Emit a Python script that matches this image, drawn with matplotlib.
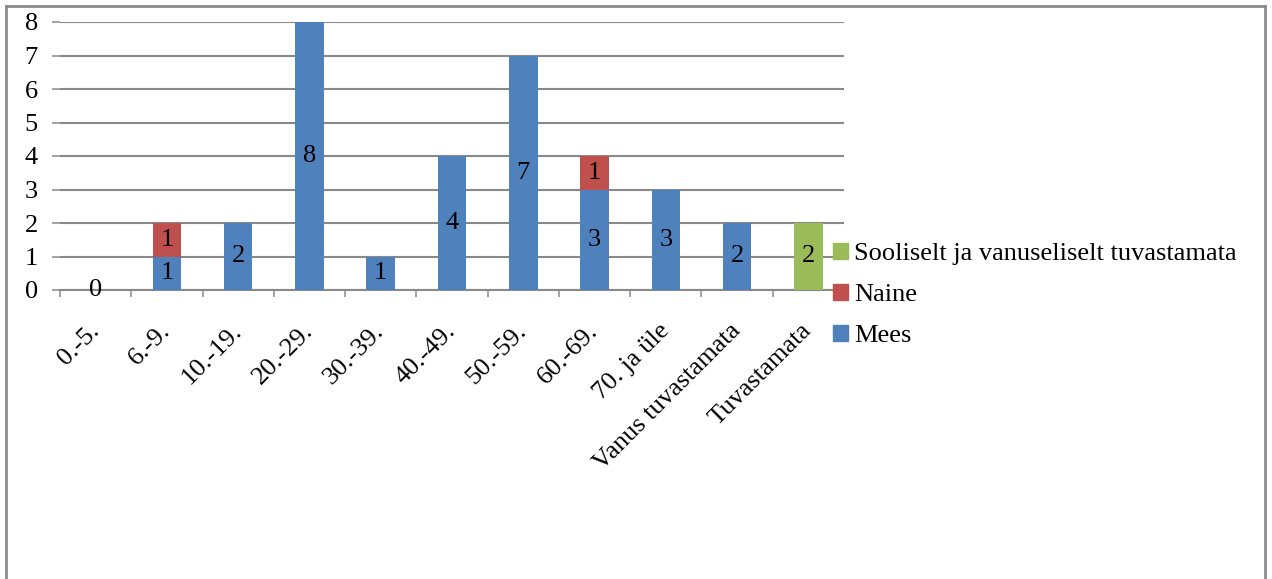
import numpy as np
import matplotlib
matplotlib.use("Agg")
import matplotlib.pyplot as plt
from matplotlib.lines import Line2D
from matplotlib.patches import Patch

plt.rcParams['font.family'] = ['Liberation Serif', 'DejaVu Serif']
plt.rcParams['font.size'] = 19

categories = ["0.-5.", "6.-9.", "10.-19.", "20.-29.", "30.-39.", "40.-49.",
              "50.-59.", "60.-69.", "70. ja üle", "Vanus tuvastamata", "Tuvastamata"]
mees = [0, 1, 2, 8, 1, 4, 7, 3, 3, 2, 0]
naine = [0, 1, 0, 0, 0, 0, 0, 1, 0, 0, 0]
tuvastamata = [0, 0, 0, 0, 0, 0, 0, 0, 0, 0, 2]

mees_labels = ["0", "1", "2", "8", "1", "4", "7", "3", "3", "2", ""]
naine_labels = [str(v) if v else "" for v in naine]
tuv_labels = [str(v) if v else "" for v in tuvastamata]

c_mees = "#4F81BD"
c_naine = "#C0504D"
c_tuv = "#9BBB59"
grid_c = "#898989"

W, H = 1272, 579
fig = plt.figure(figsize=(W / 100, H / 100), dpi=100)
ax = fig.add_axes([60 / W, 1 - 290 / H, (844 - 60) / W, (290 - 22) / H])

x = np.arange(len(categories))
b1 = ax.bar(x, mees, width=0.4, color=c_mees)
bot2 = np.array(mees)
b2 = ax.bar(x, naine, width=0.4, bottom=bot2, color=c_naine)
bot3 = bot2 + np.array(naine)
b3 = ax.bar(x, tuvastamata, width=0.4, bottom=bot3, color=c_tuv)

ax.bar_label(b1, labels=mees_labels, label_type='center', fontsize=19)
ax.bar_label(b2, labels=naine_labels, label_type='center', fontsize=19)
ax.bar_label(b3, labels=tuv_labels, label_type='center', fontsize=19)

ax.set_xlim(-0.5, len(categories) - 0.5)
ax.set_ylim(0, 8)
ax.set_yticks(range(0, 9))
ax.yaxis.grid(True, color=grid_c, linewidth=1.5)
ax.set_axisbelow(True)

for s in ['top', 'right', 'left']:
    ax.spines[s].set_visible(False)
ax.spines['bottom'].set_color(grid_c)
ax.spines['bottom'].set_linewidth(1.5)
ax.spines['bottom'].set_zorder(0.5)

ax.tick_params(axis='y', length=6, width=1.1, color=grid_c, pad=10)
ax.set_xticks(x)
ax.set_xticks(np.arange(-0.5, len(categories) - 1, 1), minor=True)
ax.tick_params(axis='x', which='major', length=0, pad=27)
ax.tick_params(axis='x', which='minor', length=5, width=1.1, color=grid_c)
ax.set_xticklabels(categories, rotation=45, ha='right', va='center',
                   rotation_mode='anchor')

handles = [Patch(color=c_tuv), Patch(color=c_naine), Patch(color=c_mees)]
names = ["Sooliselt ja vanuseliselt tuvastamata", "Naine", "Mees"]
fig.legend(handles, names, loc='center left', bbox_to_anchor=(833 / W, 1 - 295 / H),
           frameon=False, fontsize=19, handlelength=0.55, handleheight=0.55,
           handletextpad=0.25, labelspacing=0.7, borderpad=0, borderaxespad=0)

# outer frame (top, left, right)
border = dict(color="#8c8c8c", linewidth=2, transform=fig.transFigure)
fig.add_artist(Line2D([6 / W, 1265 / W], [1 - 6 / H, 1 - 6 / H], **border))
fig.add_artist(Line2D([6 / W, 6 / W], [1 - 6 / H, 0], **border))
fig.add_artist(Line2D([1265 / W, 1265 / W], [1 - 6 / H, 0], **border))

fig.savefig("out.png", dpi=100)
